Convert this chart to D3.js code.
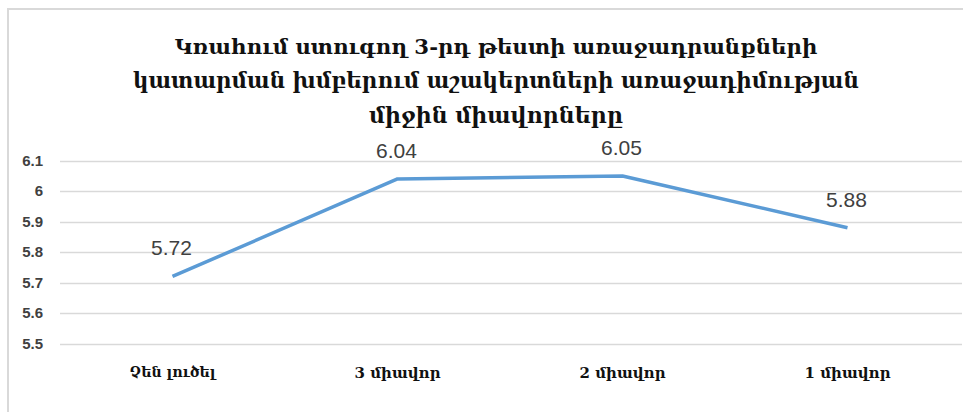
<!DOCTYPE html>
<html>
<head>
<meta charset="utf-8">
<script src="https://cdn.jsdelivr.net/npm/d3@7/dist/d3.min.js"></script>
<style>
  html, body { margin: 0; padding: 0; background: #fff; }
  svg { display: block; }
</style>
</head>
<body>
<svg id="chart" width="963" height="412"></svg>
<script>
const titleLines = [
  "Կռահում ստուգող 3-րդ թեստի առաջադրանքների",
  "կատարման խմբերում աշակերտների առաջադիմության",
  "միջին միավորները"
];
const categories = ["Չեն լուծել", "3 միավոր", "2 միավոր", "1 միավոր"];
const values = [5.72, 6.04, 6.05, 5.88];
const yTicks = [5.5, 5.6, 5.7, 5.8, 5.9, 6.0, 6.1];
const yTickLabels = ["5.5", "5.6", "5.7", "5.8", "5.9", "6", "6.1"];

const svg = d3.select("#chart");
const W = 963, H = 412;

// fit a text's font size so its natural width matches a target width
function fitWidth(sel, target, maxSize) {
  sel.each(function () {
    const t = d3.select(this);
    const base = parseFloat(t.attr("font-size"));
    const w = this.getComputedTextLength();
    if (w > 0) t.attr("font-size", Math.min(maxSize, base * target / w));
  });
}

// chart frame
svg.append("path")
  .attr("d", `M8,${H} L8,9 L${W},9`)
  .attr("fill", "none")
  .attr("stroke", "#d9d9d9")
  .attr("stroke-width", 2);

const plot = { left: 60, right: 960, top: 160.7, bottom: 343.5 };

const x = d3.scaleBand().domain(categories).range([plot.left, plot.right]).padding(0);
const y = d3.scaleLinear().domain([5.5, 6.1]).range([plot.bottom, plot.top]);

// gridlines
svg.append("g").selectAll("line").data(yTicks).join("line")
  .attr("x1", plot.left).attr("x2", plot.right + 2)
  .attr("y1", d => Math.round(y(d)) + 0.5).attr("y2", d => Math.round(y(d)) + 0.5)
  .attr("stroke", "#d9d9d9").attr("stroke-width", 1.3);

// y axis labels
const yAxis = d3.axisLeft(y).tickValues(yTicks)
  .tickFormat((d, i) => yTickLabels[i]).tickSize(0).tickPadding(0);
const yg = svg.append("g").attr("transform", "translate(43,0)").call(yAxis);
yg.select(".domain").remove();
yg.selectAll("text")
  .attr("font-family", "'Liberation Sans', Arial, sans-serif")
  .attr("font-size", 15).attr("font-weight", "bold").attr("fill", "#404040");

// x axis labels
const xAxis = d3.axisBottom(x).tickSize(0).tickPadding(0);
const xg = svg.append("g").attr("transform", "translate(0,364)").call(xAxis);
xg.select(".domain").remove();
xg.selectAll("text")
  .attr("font-family", "'DejaVu Serif', serif")
  .attr("font-size", 13).attr("font-weight", "bold").attr("fill", "#111")
  .attr("dy", "0.9em");
fitWidth(xg.selectAll("text"), 86, 15);

// line
const line = d3.line()
  .x((d, i) => x(categories[i]) + x.bandwidth() / 2)
  .y(d => y(d));
svg.append("path").datum(values)
  .attr("d", line)
  .attr("fill", "none")
  .attr("stroke", "#5B9BD5")
  .attr("stroke-width", 3.5)
  .attr("stroke-linejoin", "round")
  .attr("stroke-linecap", "butt");

// data labels
svg.append("g").selectAll("text").data(values).join("text")
  .attr("x", (d, i) => x(categories[i]) + x.bandwidth() / 2 - 1)
  .attr("y", d => y(d) - 21)
  .attr("text-anchor", "middle")
  .attr("font-family", "'Liberation Sans', Arial, sans-serif")
  .attr("font-size", 21)
  .attr("fill", "#404040")
  .text(d => d.toFixed(2));

// title
const titleBaselines = [54, 88, 123];
const titleWidths = [643, 726, 254];
const tt = svg.append("g").selectAll("text").data(titleLines).join("text")
  .attr("x", 496)
  .attr("y", (d, i) => titleBaselines[i])
  .attr("text-anchor", "middle")
  .attr("font-family", "'DejaVu Serif', serif")
  .attr("font-size", 25)
  .attr("font-weight", "bold")
  .attr("fill", "#111")
  .text(d => d);
tt.each(function (d, i) { fitWidth(d3.select(this), titleWidths[i], 27); });
</script>
</body>
</html>
